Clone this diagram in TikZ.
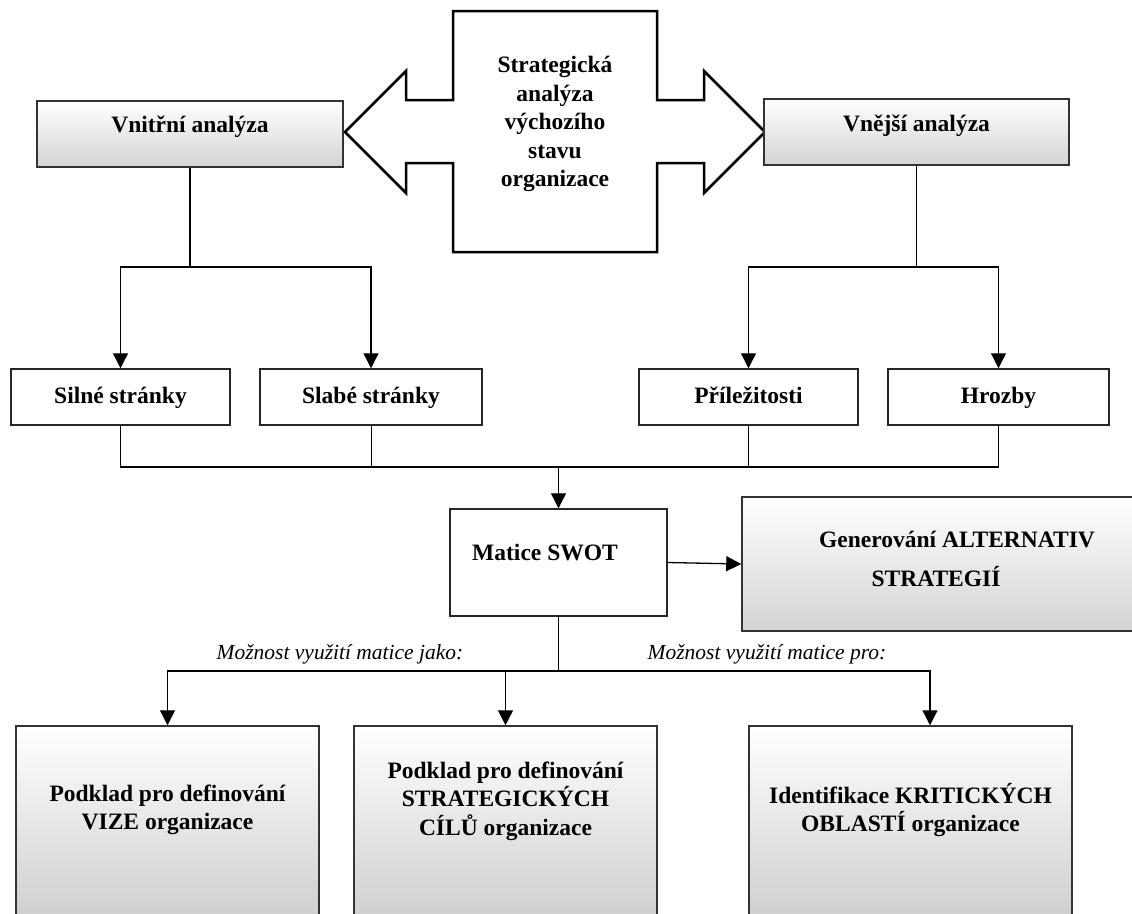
\documentclass[tikz,border=0pt]{standalone}
\usepackage{fontspec}
\setmainfont{Liberation Serif}
\usetikzlibrary{arrows.meta}

\tikzset{
  gbox/.style={draw=black!80, line width=1.5pt, top color=white, bottom color=black!17, inner sep=0pt},
  wbox/.style={draw=black!85, line width=1.5pt, fill=white, inner sep=0pt},
  btext/.style={font=\fontsize{23.5}{28.5}\selectfont\bfseries, align=center, inner sep=0pt},
  itext/.style={font=\fontsize{21.5}{26}\selectfont\itshape, inner sep=0pt},
  conn/.style={line width=1.3pt},
  thinconn/.style={line width=0.9pt},
}

\begin{document}
\begin{tikzpicture}[x=1pt,y=-1pt,>={Triangle[length=15pt,width=15pt]}]
  \useasboundingbox (0,0) rectangle (1132,913);
  \clip (0,0) rectangle (1132,913);
  % central double arrow
  \draw[line width=2.5pt, fill=white, line join=miter]
    (345,132) -- (406,71) -- (406,100) -- (453,100) -- (453,11) -- (657,11)
    -- (657,100) -- (704,100) -- (704,71) -- (765,132) -- (704,193)
    -- (704,163) -- (657,163) -- (657,252) -- (453,252) -- (453,163)
    -- (406,163) -- (406,193) -- cycle;
  \node[btext] (strat) at (555,124) {Strategická\\analýza\\výchozího\\stavu\\organizace};

  \node[gbox, minimum width=306, minimum height=66] (vnitrni) at (190,134) {};
  \node[btext, text height=17pt, text depth=5pt] (vnitrni-t) at (190,126) {Vnitřní analýza};
  \node[gbox, minimum width=305, minimum height=66] (vnejsi) at (916.5,132) {};
  \node[btext, text height=17pt, text depth=5pt] (vnejsi-t) at (916.5,125) {Vnější analýza};

  \foreach \name/\x/\w/\lab in {silne/120.5/219/{Silné stránky},slabe/371/222/{Slabé stránky},
      prilez/748.5/219/{Příležitosti},hrozby/998.5/221/{Hrozby}}{
    \node[wbox, btext, text height=17pt, text depth=5pt, minimum width=\w, minimum height=56] (\name) at (\x,397) {\lab};
  }

  \node[wbox, minimum width=217, minimum height=107] (matice) at (558.5,562.5) {};
  \node[btext] (matice-t) at (545,553) {Matice SWOT};
  \node[gbox, minimum width=440, minimum height=134] (gen) at (962,564) {};
  \node[btext] (gen-t) at (957,558.5) {Generování ALTERNATIV\\[10.5pt]STRATEGIÍ\hspace*{42pt}};

  \node[gbox, bottom color=black!21, minimum width=303, minimum height=214] (vize) at (167.5,833) {};
  \node[btext] (vize-t) at (167.5,810) {Podklad pro definování\\VIZE organizace};
  \node[gbox, bottom color=black!21, minimum width=303, minimum height=214] (cile) at (505.5,833) {};
  \node[btext] (cile-t) at (505.5,801) {Podklad pro definování\\STRATEGICKÝCH\\CÍLŮ organizace};
  \node[gbox, bottom color=black!21, minimum width=323, minimum height=214] (oblasti) at (910.5,833) {};
  \node[btext] (oblasti-t) at (910.5,810) {Identifikace KRITICKÝCH\\OBLASTÍ organizace};

  % connectors
  \draw[conn] (vnitrni.south) -- (190,267) coordinate (jv);
  \draw[conn,->] (jv) -| (silne.north);
  \draw[conn,->] (jv) -| (slabe.north);
  \draw[conn] (vnejsi.south) -- (916.5,267) coordinate (jn);
  \draw[conn,->] (jn) -| (prilez.north);
  \draw[conn,->] (jn) -| (hrozby.north);

  \coordinate (js) at (558.5,467);
  \draw[conn] (silne.south) |- (js);
  \draw[conn] (hrozby.south) |- (js);
  \draw[thinconn] (slabe.south) -- (slabe.south |- js);
  \draw[thinconn] (prilez.south) -- (prilez.south |- js);
  \draw[conn,->] (js) -- (matice.north);
  \draw[conn,->] (matice.east) -- (gen.west);

  \draw[conn] (matice.south) -- (558.5,671) coordinate (jm);
  \draw[conn,->] (jm) -| (vize.north);
  \draw[conn,->] (jm) -| (cile.north);
  \draw[conn,->] (jm) -| ([xshift=19.5pt]oblasti.north);
  \node[itext] (jako) at (340,654) {Možnost využití matice jako:};
  \node[itext] (pro) at (767,654) {Možnost využití matice pro:};
\end{tikzpicture}
\end{document}
